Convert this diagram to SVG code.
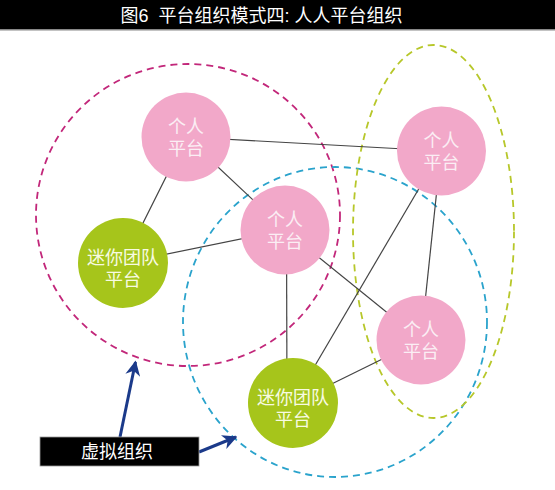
<svg xmlns="http://www.w3.org/2000/svg" width="555" height="490" viewBox="0 0 555 490">
<style>
.t{font-family:"Liberation Sans","Noto Sans CJK SC",sans-serif;text-anchor:middle;}
.pn{fill:#f2a8c9;}
.gn{fill:#a6c51b;}
.pt{fill:#fbeef4;font-size:18px;}
.gt{fill:#f8fbe2;font-size:18px;}
.e{stroke:#444;stroke-width:1.2;fill:none;}
.dash{fill:none;stroke-width:1.8;stroke-dasharray:7 5;}
.arr{stroke:#1b3a8a;stroke-width:3;fill:none;}
</style>
<defs>
<marker id="ah" viewBox="0 0 10 10" refX="9" refY="5" markerWidth="5" markerHeight="5" orient="auto" markerUnits="strokeWidth">
<path d="M0,0 L10,5 L0,10 L3,5 z" fill="#1b3a8a"/>
</marker>
</defs>
<rect width="555" height="490" fill="#fff"/>
<g id="title">
<rect x="0" y="0" width="555" height="29" fill="#000"/>
<rect x="0" y="29" width="555" height="1.5" fill="#888"/>
<text class="t" x="261.5" y="22" font-size="18" fill="#fff" xml:space="preserve">图6  平台组织模式四: 人人平台组织</text>
</g>
<g id="groups">
<ellipse class="dash" cx="188" cy="215" rx="152" ry="151" stroke="#c2277a"/>
<ellipse class="dash" cx="335" cy="322" rx="152" ry="155" stroke="#2aa3cc"/>
<ellipse class="dash" cx="433.5" cy="231.5" rx="80.5" ry="186.5" stroke="#b7c72a"/>
</g>
<g id="connectors">
<line class="e" x1="186" y1="137" x2="441" y2="151"/>
<line class="e" x1="186" y1="137" x2="123" y2="263"/>
<line class="e" x1="186" y1="137" x2="285" y2="230"/>
<line class="e" x1="123" y1="263" x2="285" y2="230"/>
<line class="e" x1="286.5" y1="230" x2="287" y2="403"/>
<line class="e" x1="285" y1="230" x2="421" y2="340"/>
<line class="e" x1="441" y1="151" x2="293" y2="403"/>
<line class="e" x1="441" y1="151" x2="421" y2="340"/>
<line class="e" x1="421" y1="340" x2="293" y2="403"/>
</g>
<g id="n1"><circle class="pn" cx="186" cy="137" r="44.5"/><text class="t pt" x="186" y="133">个人</text><text class="t pt" x="186" y="155">平台</text></g>
<g id="n2"><circle class="pn" cx="285" cy="230" r="44.5"/><text class="t pt" x="285" y="226">个人</text><text class="t pt" x="285" y="248">平台</text></g>
<g id="n3"><circle class="pn" cx="441.5" cy="151" r="44.5"/><text class="t pt" x="441.5" y="147">个人</text><text class="t pt" x="441.5" y="169">平台</text></g>
<g id="n4"><circle class="pn" cx="421" cy="340" r="44.5"/><text class="t pt" x="421" y="336">个人</text><text class="t pt" x="421" y="358">平台</text></g>
<g id="n5"><circle class="gn" cx="123" cy="263" r="45"/><text class="t gt" x="123" y="264">迷你团队</text><text class="t gt" x="123" y="286">平台</text></g>
<g id="n6"><circle class="gn" cx="293" cy="403" r="45"/><text class="t gt" x="293" y="404">迷你团队</text><text class="t gt" x="293" y="426">平台</text></g>
<g id="label">
<line class="arr" x1="120" y1="437" x2="135.5" y2="362" marker-end="url(#ah)"/>
<line class="arr" x1="199" y1="452" x2="236" y2="437" marker-end="url(#ah)"/>
<rect x="40" y="437" width="159" height="29" fill="#000" stroke="#999" stroke-width="0.8"/>
<text class="t" x="117" y="458" font-size="18" fill="#fff">虚拟组织</text>
</g>
</svg>
